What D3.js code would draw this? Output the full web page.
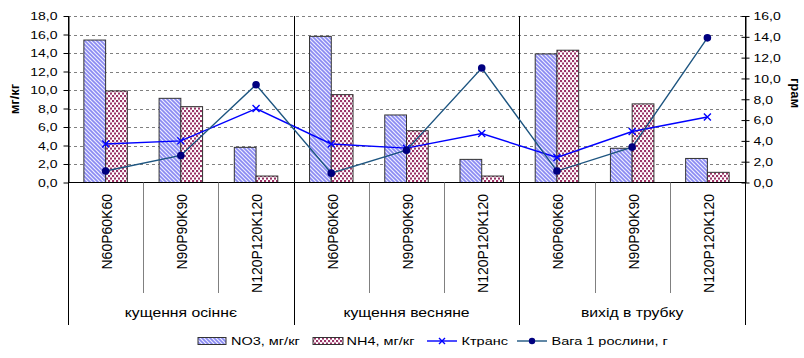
<!DOCTYPE html>
<html>
<head>
<meta charset="utf-8">
<script src="https://cdn.jsdelivr.net/npm/d3@7"></script>
<style>
  body { margin: 0; background: #fff; }
  svg { display: block; font-family: "Liberation Sans", Arial, sans-serif; }
</style>
</head>
<body>
<svg id="chart" width="804" height="358"></svg>
<script>
// Growth stages (outer category level) and fertiliser doses (inner level)
const stages = ["кущення осіннє", "кущення весняне", "вихід в трубку"];
const doses = ["N60P60K60", "N90P90K90", "N120P120K120"];

// Bar series, mg/kg (left axis)
const no3 = [15.4, 9.1, 3.8, 15.8, 7.3, 2.5, 13.9, 3.7, 2.6];
const nh4 = [9.9, 8.2, 0.7, 9.5, 5.6, 0.7, 14.3, 8.5, 1.1];

// Line series (right axis)
const ktrans = [3.7, 4.0, 7.1, 3.7, 3.3, 4.7, 2.4, 4.9, 6.3];
const vaga = [1.1, 2.6, 9.4, 0.9, 3.1, 11.0, 1.1, 3.4, 13.9];

// Axis ticks
const leftTicks = [0, 2, 4, 6, 8, 10, 12, 14, 16, 18];
const rightTicks = [0, 2, 4, 6, 8, 10, 12, 14, 16];

const seriesNames = ["NO3, мг/кг", "NH4, мг/кг", "Ктранс", "Вага 1 рослини, г"];
const leftTitle = "мг/кг";
const rightTitle = "грам";

const categories = stages.flatMap(s => doses.map(d => ({ stage: s, dose: d })));

const svg = d3.select("#chart");
const plot = { left: 68, right: 745, top: 16, bottom: 182.5 };
const axisBottom = 325;
const STRETCH = 1.25;

const x = d3.scaleBand().domain(d3.range(categories.length)).range([plot.left, plot.right]);
const xs = d3.scaleBand().domain(["no3", "nh4"]).range([0, x.bandwidth()]).paddingOuter(0.73);
const yL = d3.scaleLinear().domain([0, 18]).range([plot.bottom, plot.top]);
const yR = d3.scaleLinear().domain([0, 16]).range([plot.bottom, plot.top]);
const fmt = d => d.toFixed(1).replace(".", ",");

// Fill patterns
const defs = svg.append("defs");
const pNO3 = defs.append("pattern").attr("id", "pNO3")
  .attr("patternUnits", "userSpaceOnUse").attr("width", 4).attr("height", 4);
pNO3.append("rect").attr("width", 4).attr("height", 4).attr("fill", "#eeeeff");
pNO3.append("path").attr("d", "M-1,-1L5,5M-1,3L1,5M3,-1L5,1")
  .attr("stroke", "#8a8af2").attr("stroke-width", 1.6);

const pNH4 = defs.append("pattern").attr("id", "pNH4")
  .attr("patternUnits", "userSpaceOnUse").attr("width", 4).attr("height", 5);
pNH4.append("rect").attr("width", 4).attr("height", 5).attr("fill", "#ffffff");
pNH4.append("rect").attr("x", 0).attr("y", 0).attr("width", 2.1).attr("height", 2.1).attr("fill", "#993366");
pNH4.append("rect").attr("x", 2).attr("y", 2.5).attr("width", 2.1).attr("height", 2.1).attr("fill", "#993366");

// Horizontally widened text
function hText(parent, tx, ty, str, size, anchor, weight) {
  const g = parent.append("g").attr("transform", `translate(${tx},${ty}) scale(${STRETCH},1)`);
  return g.append("text").attr("text-anchor", anchor).attr("dy", "0.35em")
    .attr("font-size", size).attr("font-weight", weight || "normal").attr("fill", "#000").text(str);
}

// Gridlines
svg.append("g").selectAll("line").data(leftTicks.filter(d => d > 0)).join("line")
  .attr("x1", plot.left).attr("x2", plot.right)
  .attr("y1", d => Math.round(yL(d)) + 0.5).attr("y2", d => Math.round(yL(d)) + 0.5)
  .attr("stroke", "#808080").attr("stroke-dasharray", "3,3");

// Bars
const barG = svg.append("g");
[["no3", no3, "url(#pNO3)"], ["nh4", nh4, "url(#pNH4)"]].forEach(([key, vals, fill]) => {
  barG.selectAll(null).data(vals).join("rect")
    .attr("x", (d, i) => x(i) + xs(key))
    .attr("y", d => yL(d))
    .attr("width", xs.bandwidth())
    .attr("height", d => yL(0) - yL(d))
    .attr("fill", fill).attr("stroke", "#333").attr("stroke-width", 1);
});

// Category axis line and separators
const axG = svg.append("g").attr("stroke", "#000").attr("stroke-width", 1);
axG.append("line").attr("x1", plot.left).attr("x2", plot.right)
  .attr("y1", plot.bottom).attr("y2", plot.bottom);
const bounds = d3.range(categories.length + 1);
axG.selectAll(null).data(bounds).join("line")
  .attr("x1", i => Math.round(plot.left + i * x.step()) + 0.5)
  .attr("x2", i => Math.round(plot.left + i * x.step()) + 0.5)
  .attr("y1", i => (i % 3 === 0 ? plot.top : plot.bottom))
  .attr("y2", i => (i % 3 === 0 ? axisBottom : 293))
  .attr("stroke", i => (i % 3 === 0 ? "#000" : "#808080"));

// Left axis
const gL = svg.append("g").attr("transform", `translate(${plot.left + 0.5},0)`)
  .call(d3.axisLeft(yL).tickValues(leftTicks).tickFormat(fmt).tickSize(5).tickSizeOuter(0));
gL.select(".domain").attr("stroke", "#000");
gL.selectAll(".tick text").attr("x", 0).attr("dy", "0.35em")
  .attr("transform", `translate(-11,0) scale(${STRETCH},1)`)
  .attr("font-size", 11.2).attr("font-family", "Liberation Sans, Arial, sans-serif").attr("fill", "#000");

// Right axis
const gR = svg.append("g").attr("transform", `translate(${plot.right + 0.5},0)`)
  .call(d3.axisRight(yR).tickValues(rightTicks).tickFormat(fmt).tickSize(4).tickSizeOuter(0));
gR.select(".domain").attr("stroke", "#000");
gR.selectAll(".tick line").attr("x1", -4).attr("x2", 4);
gR.selectAll(".tick text").attr("x", 0).attr("dy", "0.35em")
  .attr("transform", `translate(8,0) scale(${STRETCH},1)`)
  .attr("font-size", 11.2).attr("font-family", "Liberation Sans, Arial, sans-serif").attr("fill", "#000");

// Lines
const cx = i => x(i) + x.bandwidth() / 2;
const line = d3.line().x((d, i) => cx(i)).y(d => yR(d));

svg.append("path").datum(ktrans).attr("d", line)
  .attr("fill", "none").attr("stroke", "#0000ff").attr("stroke-width", 1.4);
svg.append("g").selectAll("path").data(ktrans).join("path")
  .attr("transform", (d, i) => `translate(${cx(i)},${yR(d)})`)
  .attr("d", "M-3.5,-3.5L3.5,3.5M-3.5,3.5L3.5,-3.5")
  .attr("stroke", "#0000ff").attr("stroke-width", 1.4).attr("fill", "none");

svg.append("path").datum(vaga).attr("d", line)
  .attr("fill", "none").attr("stroke", "#1d5580").attr("stroke-width", 1.4);
svg.append("g").selectAll("circle").data(vaga).join("circle")
  .attr("cx", (d, i) => cx(i)).attr("cy", d => yR(d)).attr("r", 3.8)
  .attr("fill", "#000080");

// Inner category labels (rotated)
svg.append("g").selectAll("text").data(categories).join("text")
  .attr("transform", (d, i) => `translate(${cx(i) + 1.5},194) rotate(-90)`)
  .attr("text-anchor", "end").attr("dy", "0.35em").attr("font-size", 14).attr("fill", "#000")
  .text(d => d.dose);

// Outer category labels
stages.forEach((s, k) => {
  const mid = plot.left + (k * 3 + 1.5) * x.step();
  hText(svg, mid, 313, s, 12.6, "middle");
});

// Axis titles
svg.append("text").attr("transform", "translate(14,99) rotate(-90)")
  .attr("text-anchor", "middle").attr("dy", "0.35em").attr("font-size", 13)
  .attr("font-weight", "bold").text(leftTitle);
svg.append("text").attr("transform", "translate(796,93) rotate(90)")
  .attr("text-anchor", "middle").attr("dy", "0.35em").attr("font-size", 13)
  .attr("font-weight", "bold").text(rightTitle);

// Legend
const ly = 341;
const leg = svg.append("g");
leg.append("rect").attr("x", 198).attr("y", ly - 3.5).attr("width", 28).attr("height", 7)
  .attr("fill", "url(#pNO3)").attr("stroke", "#333");
hText(leg, 231, ly, seriesNames[0], 11.6, "start");
leg.append("rect").attr("x", 313).attr("y", ly - 3.5).attr("width", 30).attr("height", 7)
  .attr("fill", "url(#pNH4)").attr("stroke", "#333");
hText(leg, 346.5, ly, seriesNames[1], 11.6, "start");
leg.append("line").attr("x1", 427).attr("x2", 457).attr("y1", ly).attr("y2", ly)
  .attr("stroke", "#0000ff").attr("stroke-width", 1.4);
leg.append("path").attr("transform", `translate(442,${ly})`)
  .attr("d", "M-3,-3L3,3M-3,3L3,-3").attr("stroke", "#0000ff").attr("stroke-width", 1.4);
hText(leg, 461.5, ly, seriesNames[2], 11.6, "start");
leg.append("line").attr("x1", 517).attr("x2", 547).attr("y1", ly).attr("y2", ly)
  .attr("stroke", "#1d5580").attr("stroke-width", 1.4);
leg.append("circle").attr("cx", 532).attr("cy", ly).attr("r", 3.2).attr("fill", "#000080");
hText(leg, 551.5, ly, seriesNames[3], 11.6, "start");
</script>
</body>
</html>
